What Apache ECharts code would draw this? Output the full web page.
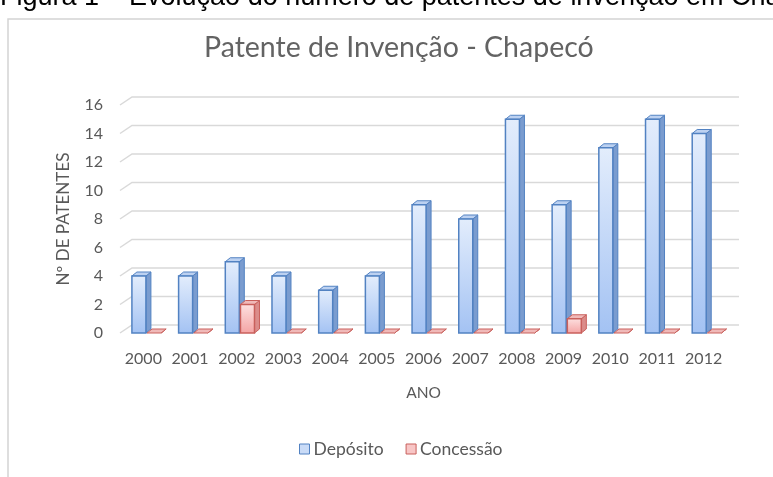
<!DOCTYPE html>
<html>
<head>
    <meta charset="utf-8" />
    <title>Patente de Invenção - Chapecó</title>
    <script type="text/javascript" src="https://cdn.jsdelivr.net/npm/echarts@6/dist/echarts.min.js"></script>
    <style>
        html, body { margin: 0; padding: 0; background: #fff; }
        #main { width: 773px; height: 477px; }
    </style>
</head>
<body>
    <div id="main"></div>
    <script type="text/javascript">
        // dados
        var anos = ['2000', '2001', '2002', '2003', '2004', '2005', '2006', '2007', '2008', '2009', '2010', '2011', '2012'];
        var deposito = [4, 4, 5, 4, 3, 4, 9, 8, 15, 9, 13, 15, 14];
        var concessao = [0, 0, 2, 0, 0, 0, 0, 0, 0, 1, 0, 0, 0];
        var yTicks = [0, 2, 4, 6, 8, 10, 12, 14, 16];

        var FONT = 'Lato';
        var TXT = '#595959';
        // deslocamento da parede de fundo e profundidade das barras (pseudo 3D)
        var WALL = [12, -8];
        var DEPTH = [5, -4];

        function barRenderer(offset, cols) {
            return function (params, api) {
                var i = api.value(0);
                var v = api.value(1);
                var band = api.size([1, 0])[0];
                var base = api.coord([i, 0]);
                var top = api.coord([i, v]);
                var w = band * 0.30;
                var x = base[0] - band / 2 + band * offset;
                var y0 = base[1], y1 = top[1];
                var dx = DEPTH[0], dy = DEPTH[1];
                var h = y0 - y1;
                var kids = [];
                // lado
                kids.push({
                    type: 'polygon',
                    shape: { points: [[x + w, y1], [x + w + dx, y1 + dy], [x + w + dx, y0 + dy], [x + w, y0]] },
                    style: { fill: cols.side, stroke: cols.stroke, lineWidth: 1 }
                });
                // topo
                kids.push({
                    type: 'polygon',
                    shape: { points: [[x, y1], [x + dx, y1 + dy], [x + w + dx, y1 + dy], [x + w, y1]] },
                    style: { fill: cols.top, stroke: cols.stroke, lineWidth: 1 }
                });
                // frente
                if (h > 0.5) {
                    kids.push({
                        type: 'rect',
                        shape: { x: x, y: y1, width: w, height: h },
                        style: {
                            fill: new echarts.graphic.LinearGradient(0, 0, 0, 1, [
                                { offset: 0, color: cols.light },
                                { offset: 1, color: cols.dark }
                            ]),
                            stroke: cols.stroke,
                            lineWidth: 1.5
                        }
                    });
                }
                return { type: 'group', children: kids };
            };
        }

        var azul = { light: '#e3edfc', dark: '#a3c2f3', side: '#7a9ccf', top: '#bcd1f1', stroke: '#5282c2' };
        var verm = { light: '#fde1e1', dark: '#f4a3a3', side: '#db8c8a', top: '#f0b9b8', stroke: '#c9605c' };

        var myChart = echarts.init(document.getElementById('main'));

        var option = {
            animation: false,
            backgroundColor: '#fff',
            title: {
                text: 'Patente de Invenção - Chapecó',
                left: 199,
                top: 28,
                textStyle: { fontFamily: FONT, fontSize: 28.5, fontWeight: 'normal', color: '#636363' }
            },
            graphic: [
                {
                    type: 'rect',
                    shape: { x: 8, y: 19, width: 820, height: 520 },
                    style: { fill: 'none', stroke: '#d4d4d4', lineWidth: 1.5 },
                    silent: true
                },
                {
                    type: 'text',
                    x: 0,
                    y: 11,
                    style: {
                        text: 'Figura 1 – Evolução do número de patentes de invenção em Chapecó',
                        font: '27px "Liberation Sans", Arial, sans-serif',
                        fill: '#000',
                        textVerticalAlign: 'bottom'
                    }
                }
            ],
            legend: {
                bottom: 14,
                left: 294,
                itemWidth: 10,
                itemHeight: 10,
                itemGap: 22,
                icon: 'rect',
                textStyle: { fontFamily: FONT, fontSize: 17.5, color: TXT, padding: [0, 0, 0, -1] },
                data: [
                    { name: 'Depósito', itemStyle: { color: '#c9dbf7', borderColor: '#5282c2', borderWidth: 1 } },
                    { name: 'Concessão', itemStyle: { color: '#f8c6c6', borderColor: '#c9605c', borderWidth: 1 } }
                ]
            },
            grid: { left: 120, right: 46, top: 105, bottom: 144 },
            xAxis: {
                type: 'category',
                data: anos,
                name: 'ANO',
                nameLocation: 'middle',
                nameGap: 52,
                nameTextStyle: { fontFamily: FONT, fontSize: 15.5, color: TXT },
                axisLine: { show: false },
                axisTick: { show: false },
                axisLabel: { fontFamily: FONT, fontSize: 16, color: TXT, margin: 18, interval: 0, hideOverlap: false }
            },
            yAxis: {
                type: 'value',
                min: 0,
                max: 16,
                interval: 2,
                name: 'Nº DE PATENTES',
                nameLocation: 'middle',
                nameGap: 48,
                nameTextStyle: { fontFamily: FONT, fontSize: 17, color: TXT },
                axisLine: { show: false },
                axisTick: { show: false },
                splitLine: { show: false },
                axisLabel: { fontFamily: FONT, fontSize: 16, color: TXT, margin: 17 }
            },
            series: [
                {
                    name: 'grade',
                    type: 'custom',
                    silent: true,
                    clip: false,
                    z: 1,
                    data: yTicks.map(function (t) { return [0, t]; }),
                    renderItem: function (params, api) {
                        var cs = params.coordSys;
                        var p = api.coord([0, api.value(1)]);
                        var xl = cs.x, xr = cs.x + cs.width;
                        return {
                            type: 'polyline',
                            shape: { points: [[xl, p[1]], [xl + WALL[0], p[1] + WALL[1]], [xr + WALL[0], p[1] + WALL[1]]] },
                            style: { fill: 'none', stroke: '#d9d9d9', lineWidth: 1.5 }
                        };
                    }
                },
                {
                    name: 'Depósito',
                    type: 'custom',
                    clip: false,
                    z: 3,
                    itemStyle: { color: '#c9dbf7' },
                    data: deposito.map(function (v, i) { return [i, v]; }),
                    renderItem: barRenderer(0.255, azul)
                },
                {
                    name: 'Concessão',
                    type: 'custom',
                    clip: false,
                    z: 4,
                    itemStyle: { color: '#f8c6c6' },
                    data: concessao.map(function (v, i) { return [i, v]; }),
                    renderItem: barRenderer(0.58, verm)
                }
            ]
        };

        myChart.setOption(option);
    </script>
</body>
</html>
